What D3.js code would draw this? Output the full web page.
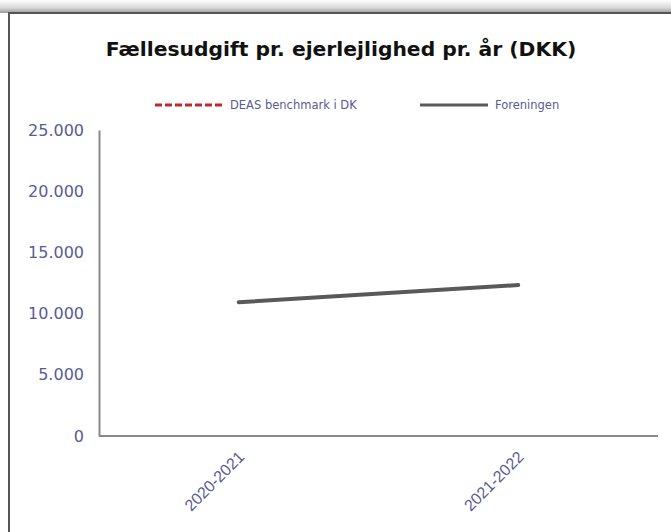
<html>
  <head>
    <style>
      body {
        margin: 0;
        font-family: "DejaVu Sans", Verdana, sans-serif;
        background: #fff;
      }
      svg {
        display: block;
      }
      .title {
        font-size: 20.3px;
        font-weight: bold;
        fill: #111;
        text-anchor: middle;
      }
      .legend-label {
        font-size: 11.5px;
        fill: #5a5a96;
      }
      .axis text {
        fill: #5a5a96;
      }
    </style>
  </head>
  <body>
    <script src="https://d3js.org/d3.v7.min.js"></script>
    <script>
      const categories = ["2020-2021", "2021-2022"];
      const deasValues = [null, null];
      const foreningenValues = [10930, 12330];
      const yTicks = [0, 5000, 10000, 15000, 20000, 25000];
      const tickLabels = ["0", "5.000", "10.000", "15.000", "20.000", "25.000"];

      const width = 671,
        height = 532;
      const margin = { top: 130, right: 13, bottom: 96, left: 99 };

      const svg = d3
        .select("body")
        .append("svg")
        .attr("width", width)
        .attr("height", height);

      // shadow above the frame
      const grad = svg
        .append("defs")
        .append("linearGradient")
        .attr("id", "shade")
        .attr("x1", 0)
        .attr("y1", 0)
        .attr("x2", 0)
        .attr("y2", 1);
      grad.append("stop").attr("offset", "0%").attr("stop-color", "#fff");
      grad.append("stop").attr("offset", "60%").attr("stop-color", "#d8d8d8");
      grad.append("stop").attr("offset", "100%").attr("stop-color", "#999");
      svg
        .append("rect")
        .attr("x", 0)
        .attr("y", 0)
        .attr("width", width)
        .attr("height", 13)
        .attr("fill", "url(#shade)");

      // frame (runs off right and bottom)
      svg
        .append("path")
        .attr("d", `M9,${height + 5} V13 H${width + 5}`)
        .attr("fill", "none")
        .attr("stroke", "#555")
        .attr("stroke-width", 2);

      svg
        .append("text")
        .attr("class", "title")
        .attr("x", 341)
        .attr("y", 56)
        .text("Fællesudgift pr. ejerlejlighed pr. år (DKK)");

      const x = d3
        .scalePoint()
        .domain(categories)
        .range([margin.left, width - margin.right])
        .padding(0.5);

      const y = d3
        .scaleLinear()
        .domain([0, 25000])
        .range([height - margin.bottom, margin.top]);

      // y axis
      const yAxis = svg
        .append("g")
        .attr("class", "axis")
        .attr("transform", `translate(${margin.left},0)`)
        .call(
          d3
            .axisLeft(y)
            .tickValues(yTicks)
            .tickSize(0)
            .tickPadding(15)
            .tickFormat((d, i) => tickLabels[i])
        );
      yAxis.select(".domain").attr("stroke", "#8a8a8a").attr("stroke-width", 2);
      yAxis
        .selectAll("text")
        .style("font-family", "DejaVu Sans, sans-serif")
        .style("font-size", "16px");

      // x axis
      const xAxis = svg
        .append("g")
        .attr("class", "axis")
        .attr("transform", `translate(0,${height - margin.bottom})`)
        .call(d3.axisBottom(x).tickSize(0).tickPadding(0));
      xAxis
        .select(".domain")
        .attr("d", `M${margin.left},0H${width - margin.right}`)
        .attr("stroke", "#8a8a8a")
        .attr("stroke-width", 2);
      xAxis
        .selectAll("text")
        .style("font-size", "16px")
        .attr("text-anchor", "end")
        .attr("dy", null)
        .attr("y", 0)
        .attr("transform", "translate(6,22) rotate(-45)");

      const line = d3
        .line()
        .defined((d) => d != null)
        .x((d, i) => x(categories[i]))
        .y((d) => y(d));

      svg
        .append("path")
        .datum(deasValues)
        .attr("fill", "none")
        .attr("stroke", "#c0282d")
        .attr("stroke-width", 3)
        .attr("stroke-dasharray", "7,3")
        .attr("d", line);

      svg
        .append("path")
        .datum(foreningenValues)
        .attr("fill", "none")
        .attr("stroke", "#59595c")
        .attr("stroke-width", 4)
        .attr("stroke-linecap", "round")
        .attr("d", line);

      // legend
      const legend = [
        { name: "DEAS benchmark i DK", color: "#c0282d", dash: "7,3", x: 155 },
        { name: "Foreningen", color: "#59595c", dash: null, x: 420 },
      ];
      const lg = svg
        .selectAll(".legend")
        .data(legend)
        .join("g")
        .attr("class", "legend")
        .attr("transform", (d) => `translate(${d.x},105)`);
      lg.append("line")
        .attr("x1", 0)
        .attr("x2", 68)
        .attr("y1", 0)
        .attr("y2", 0)
        .attr("stroke", (d) => d.color)
        .attr("stroke-width", 3)
        .attr("stroke-dasharray", (d) => d.dash);
      lg.append("text")
        .attr("class", "legend-label")
        .attr("x", 75)
        .attr("y", 4)
        .text((d) => d.name);
    </script>
  </body>
</html>
